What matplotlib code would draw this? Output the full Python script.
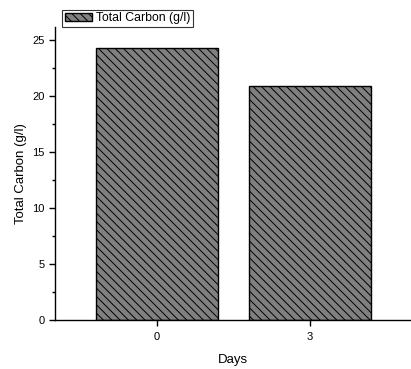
import matplotlib
matplotlib.use('Agg')
import matplotlib.pyplot as plt
from matplotlib.ticker import MultipleLocator

plt.rcParams['font.family'] = ['Liberation Sans', 'DejaVu Sans']
plt.rcParams['hatch.linewidth'] = 0.7

days = ['0', '3']
carbon = [24.3, 20.9]

fig = plt.figure(figsize=(4.11, 3.69), dpi=100)
ax = fig.add_axes([0.134, 0.133, 0.864, 0.794])

x = range(len(days))
ax.bar(x, carbon, width=0.8, color='#808080', edgecolor='black', linewidth=1.0,
       hatch='\\\\\\\\', label='Total Carbon (g/l)')

ax.set_xticks(list(x))
ax.set_xticklabels(days)
ax.set_xlim(-0.667, 1.654)
ax.set_ylim(0, 26.2)
ax.yaxis.set_major_locator(MultipleLocator(5))
ax.yaxis.set_minor_locator(MultipleLocator(2.5))

for s in ['top', 'right']:
    ax.spines[s].set_visible(False)
for s in ['left', 'bottom']:
    ax.spines[s].set_linewidth(1.0)
ax.tick_params(axis='both', which='major', direction='out', length=4, width=1, labelsize=8)
ax.tick_params(axis='x', which='major', pad=5)
ax.tick_params(axis='y', which='minor', direction='out', length=2.5, width=1)

ax.set_xlabel('Days', fontsize=9.5, labelpad=8)
ax.set_ylabel('Total Carbon (g/l)', fontsize=9.5)

leg = ax.legend(loc='lower left', bbox_to_anchor=(0.02, 1.0), fontsize=8.8,
                frameon=True, fancybox=False, edgecolor='black', borderpad=0.2,
                handlelength=2.2, handleheight=0.7, handletextpad=0.4, borderaxespad=0)
leg.get_frame().set_linewidth(0.8)

fig.savefig('out.png', dpi=100)
